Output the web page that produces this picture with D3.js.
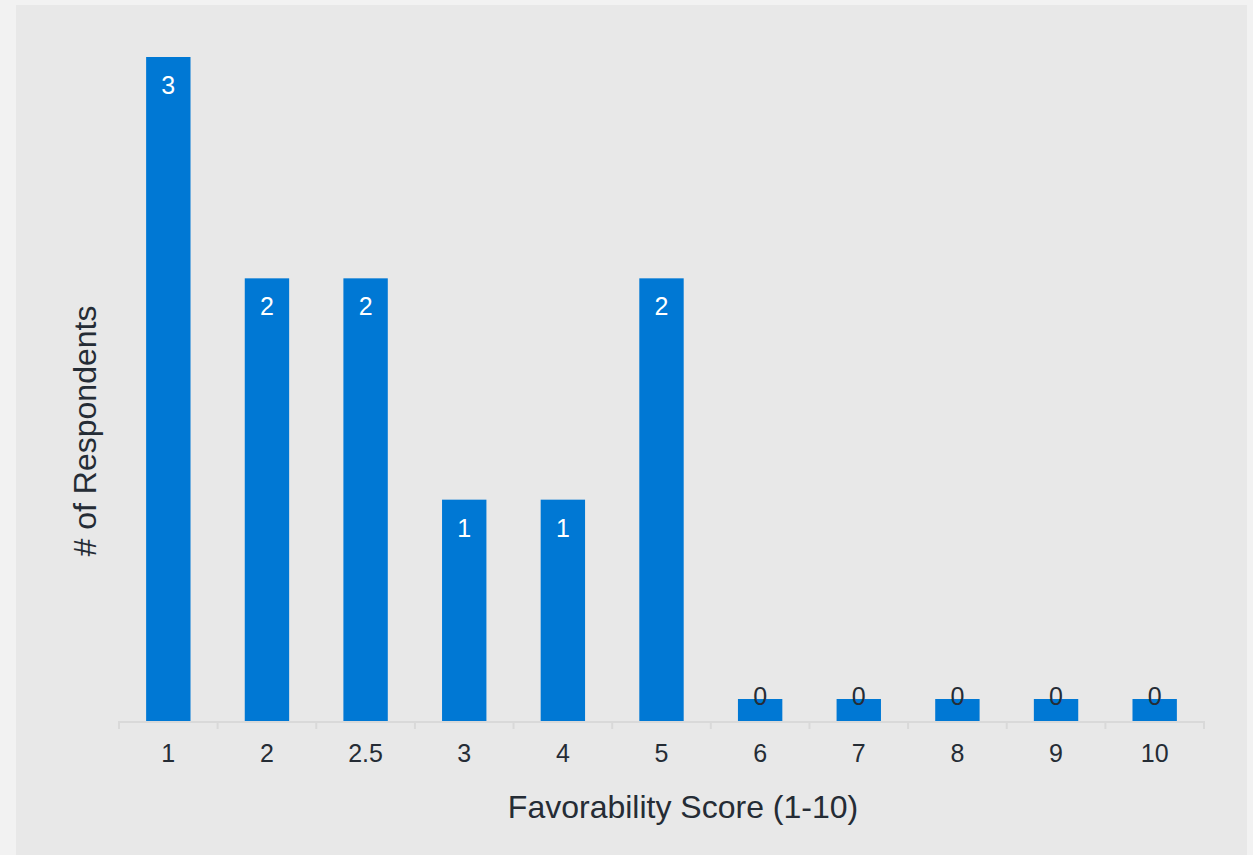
<!DOCTYPE html>
<html>
<head>
<meta charset="utf-8">
<script src="https://cdn.jsdelivr.net/npm/d3@7"></script>
<style>
	html, body { margin: 0; padding: 0; background: #f2f2f2; }
	svg { display: block; font-family: "Liberation Sans", Arial, sans-serif; }
</style>
</head>
<body>
<div id="chart"></div>
<script>
'use strict';

var categories = ['1', '2', '2.5', '3', '4', '5', '6', '7', '8', '9', '10'];
var counts = [3, 2, 2, 1, 1, 2, 0, 0, 0, 0, 0];
var xTitle = 'Favorability Score (1-10)';
var yTitle = '# of Respondents';

var width = 1253, height = 855;
var textColour = '#252c35';
var barColour = '#0078d4';

var svg = d3.select('#chart').append('svg')
	.attr('width', width)
	.attr('height', height);

// grey panel behind the plot
svg.append('rect')
	.attr('x', 16)
	.attr('y', 5)
	.attr('width', 1231)
	.attr('height', height - 5)
	.attr('fill', '#e8e8e8');

var x = d3.scaleBand()
	.domain(categories)
	.range([119, 1204])
	.paddingInner(0.55)
	.paddingOuter(0.275);

var y = d3.scaleLinear()
	.domain([0, 3])
	.range([721, 57]);

var minBar = 22;

function barTop (d)	{
	return Math.min(y(d), y(0) - minBar);
}

// axis line and ticks at band edges
var axis = svg.append('g').attr('class', 'x-axis');
var step = x.step();
var edges = categories.map(function (c)	{
	return x(c) - x.paddingOuter() * step;
});
edges.push(x.range()[1]);

axis.append('line')
	.attr('x1', x.range()[0])
	.attr('x2', x.range()[1])
	.attr('y1', y(0) + 1)
	.attr('y2', y(0) + 1)
	.attr('stroke', '#d9d9d9')
	.attr('stroke-width', 2);

axis.selectAll('line.tick')
	.data(edges)
	.enter().append('line')
	.attr('class', 'tick')
	.attr('x1', function (d) { return d; })
	.attr('x2', function (d) { return d; })
	.attr('y1', y(0))
	.attr('y2', y(0) + 8)
	.attr('stroke', '#d9d9d9')
	.attr('stroke-width', 2);

axis.selectAll('text')
	.data(categories)
	.enter().append('text')
	.attr('x', function (d) { return x(d) + x.bandwidth() / 2; })
	.attr('y', 762)
	.attr('text-anchor', 'middle')
	.attr('font-size', 25)
	.attr('fill', textColour)
	.text(function (d) { return d; });

// bars
var data = categories.map(function (c, i)	{
	return { cat: c, value: counts[i] };
});

svg.selectAll('rect.bar')
	.data(data)
	.enter().append('rect')
	.attr('class', 'bar')
	.attr('x', function (d) { return x(d.cat); })
	.attr('y', function (d) { return barTop(d.value); })
	.attr('width', x.bandwidth())
	.attr('height', function (d) { return y(0) - barTop(d.value); })
	.attr('fill', barColour);

svg.selectAll('text.label')
	.data(data)
	.enter().append('text')
	.attr('class', 'label')
	.attr('x', function (d) { return x(d.cat) + x.bandwidth() / 2; })
	.attr('y', function (d) { return barTop(d.value) + (d.value > 0 ? 37 : 6); })
	.attr('text-anchor', 'middle')
	.attr('font-size', 25)
	.attr('fill', function (d) { return d.value > 0 ? '#ffffff' : textColour; })
	.text(function (d) { return d.value; });

// titles
svg.append('text')
	.attr('x', 683)
	.attr('y', 818)
	.attr('text-anchor', 'middle')
	.attr('font-size', 32)
	.attr('fill', textColour)
	.text(xTitle);

svg.append('text')
	.attr('transform', 'translate(96, 431) rotate(-90)')
	.attr('text-anchor', 'middle')
	.attr('font-size', 32)
	.attr('fill', textColour)
	.text(yTitle);
</script>
</body>
</html>
